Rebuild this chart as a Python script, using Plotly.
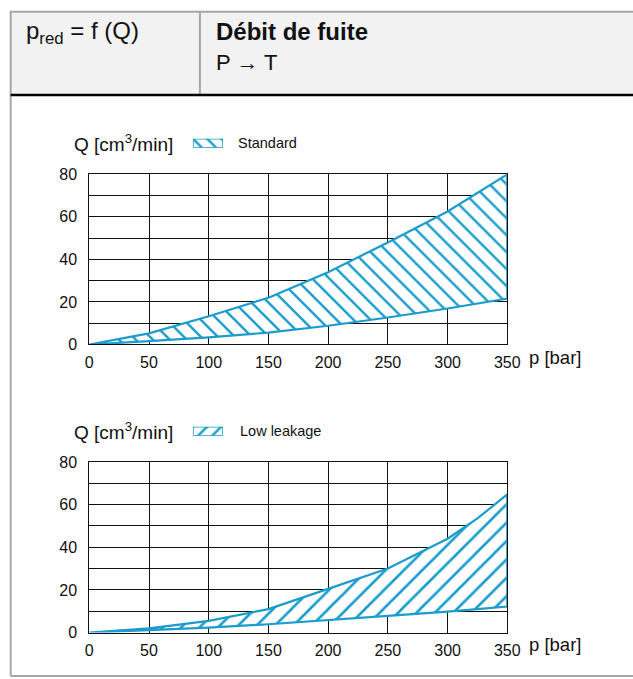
import plotly.graph_objects as go

W, H = 633, 686

# Data
pressure = [0, 50, 100, 150, 200, 250, 300, 350]
std_upper = [0, 5.2, 13.3, 22.0, 34.0, 48.0, 62.5, 80.0]
std_lower = [0, 1.6, 3.3, 5.6, 8.8, 12.7, 16.9, 21.6]

low_pressure = [0, 50, 100, 150, 200, 250, 300, 325, 350]
low_upper = [0, 2.0, 5.5, 11.0, 20.5, 30.0, 44.0, 53.5, 64.8]
low_lower = [0, 1.0, 2.3, 3.9, 5.8, 7.8, 9.8, 11.0, 12.2]

x_ticks = [0, 50, 100, 150, 200, 250, 300, 350]
y_ticks = [0, 20, 40, 60, 80]

series_names = ["Standard", "Low leakage"]

# legend key outline (unit square in its own small axes)
key_x = [0, 1, 1, 0, 0]
key_y = [0, 0, 1, 1, 0]

BLUE = "#1b9ccc"
FONT = "Liberation Sans, Arial, sans-serif"

# observed page-to-picture mapping compensation
SX, OX = 0.972, 4.3
SY, OY = 0.9715, 7.3


def px_x(p):
    return ((p - OX) / SX) / W


def px_y(p):
    return 1 - ((p - OY) / SY) / H


def band(x, lo, hi):
    return x + x[::-1], hi + lo[::-1]


fig = go.Figure()

bx, by = band(pressure, std_lower, std_upper)
fig.add_trace(go.Scatter(
    x=bx, y=by, mode="lines", fill="toself", name=series_names[0],
    line=dict(color=BLUE, width=2.2),
    fillcolor="rgba(0,0,0,0)",
    fillpattern=dict(shape="\\", size=12, solidity=0.2, fgcolor=BLUE, fgopacity=1, bgcolor="white"),
    xaxis="x", yaxis="y", showlegend=False, hoverinfo="skip",
))

lx, ly = band(low_pressure, low_lower, low_upper)
fig.add_trace(go.Scatter(
    x=lx, y=ly, mode="lines", fill="toself", name=series_names[1],
    line=dict(color=BLUE, width=2.2),
    fillcolor="rgba(0,0,0,0)",
    fillpattern=dict(shape="/", size=13, solidity=0.2, fgcolor=BLUE, fgopacity=1, bgcolor="white"),
    xaxis="x2", yaxis="y2", showlegend=False, hoverinfo="skip",
))

# legend keys
for shape, xa_name, ya_name in [("\\", "x3", "y3"), ("/", "x4", "y4")]:
    fig.add_trace(go.Scatter(
        x=key_x, y=key_y, mode="lines", fill="toself",
        line=dict(color=BLUE, width=1.6),
        fillcolor="rgba(0,0,0,0)",
        fillpattern=dict(shape=shape, size=10, solidity=0.25, fgcolor=BLUE, fgopacity=1, bgcolor="white"),
        xaxis=xa_name, yaxis=ya_name, showlegend=False, hoverinfo="skip",
    ))

dom_x = [px_x(89.5), px_x(507)]
dom_y1 = [px_y(342.5), px_y(173)]
dom_y2 = [px_y(629.5), px_y(459.5)]

xa = dict(range=[0, 350], tickvals=x_ticks, showgrid=True, gridcolor="#111", gridwidth=1,
          showline=True, linecolor="#111", linewidth=1, mirror=True, zeroline=False,
          ticks="", tickfont=dict(family=FONT, size=16, color="#111"),
          ticklabelstandoff=3, domain=dom_x, fixedrange=True)
ya = dict(range=[0, 80], tickvals=y_ticks, showgrid=True, gridcolor="#111", gridwidth=1,
          minor=dict(dtick=10, showgrid=True, gridcolor="#111", gridwidth=1),
          showline=True, linecolor="#111", linewidth=1, mirror=True, zeroline=False,
          ticks="", tickfont=dict(family=FONT, size=16, color="#111"),
          ticklabelstandoff=8, fixedrange=True)
hidden = dict(range=[0, 1], visible=False, fixedrange=True)

fig.update_layout(
    width=W, height=H, margin=dict(l=0, r=0, t=0, b=0),
    paper_bgcolor="white", plot_bgcolor="rgba(0,0,0,0)",
    xaxis=dict(xa, anchor="y"),
    yaxis=dict(ya, domain=dom_y1, anchor="x"),
    xaxis2=dict(xa, anchor="y2"),
    yaxis2=dict(ya, domain=dom_y2, anchor="x2"),
    xaxis3=dict(hidden, domain=[px_x(193), px_x(223)], anchor="y3"),
    yaxis3=dict(hidden, domain=[px_y(146.5), px_y(137.5)], anchor="x3"),
    xaxis4=dict(hidden, domain=[px_x(193), px_x(223)], anchor="y4"),
    yaxis4=dict(hidden, domain=[px_y(433.5), px_y(424.5)], anchor="x4"),
    showlegend=False,
)

R = 1.2  # beyond right edge of paper
BOT = 0.0015
shapes = [
    dict(type="rect", xref="paper", yref="paper", x0=px_x(11), x1=R, y0=px_y(94), y1=px_y(11),
         fillcolor="#f2f2f2", line=dict(color="#a6a6a6", width=2), layer="below"),
    dict(type="line", xref="paper", yref="paper", x0=px_x(200), x1=px_x(200), y0=px_y(94), y1=px_y(11),
         line=dict(color="#a6a6a6", width=2)),
    dict(type="line", xref="paper", yref="paper", x0=px_x(11), x1=px_x(11), y0=BOT, y1=px_y(94),
         line=dict(color="#a6a6a6", width=2)),
    dict(type="line", xref="paper", yref="paper", x0=px_x(11), x1=R, y0=BOT, y1=BOT,
         line=dict(color="#a6a6a6", width=2)),
    dict(type="line", xref="paper", yref="paper", x0=px_x(11), x1=R, y0=px_y(94), y1=px_y(94),
         line=dict(color="#000", width=2.5)),
]
fig.update_layout(shapes=shapes)

ann = [
    dict(text="p<sub>red</sub> = f (Q)", x=px_x(24), y=px_y(32), size=24),
    dict(text="<b>Débit de fuite</b>", x=px_x(214), y=px_y(31), size=24),
    dict(text="P → T", x=px_x(214), y=px_y(62), size=22),
    dict(text="Q [cm<sup>3</sup>/min]", x=px_x(72), y=px_y(142), size=19),
    dict(text=series_names[0], x=px_x(236), y=px_y(142), size=14.5),
    dict(text="p [bar]", x=px_x(527), y=px_y(355), size=18.5),
    dict(text="Q [cm<sup>3</sup>/min]", x=px_x(72), y=px_y(429), size=19),
    dict(text=series_names[1], x=px_x(238), y=px_y(429), size=14.5),
    dict(text="p [bar]", x=px_x(527), y=px_y(641), size=18.5),
]
for a in ann:
    s = a.pop("size")
    a.update(xref="paper", yref="paper", showarrow=False, xanchor="left", yanchor="middle",
             font=dict(family=FONT, size=s, color="#111"))
fig.update_layout(annotations=ann)

fig.write_html("out.html", config=dict(displayModeBar=False),
               post_script="document.body.style.margin='0';document.body.style.overflow='hidden';")
